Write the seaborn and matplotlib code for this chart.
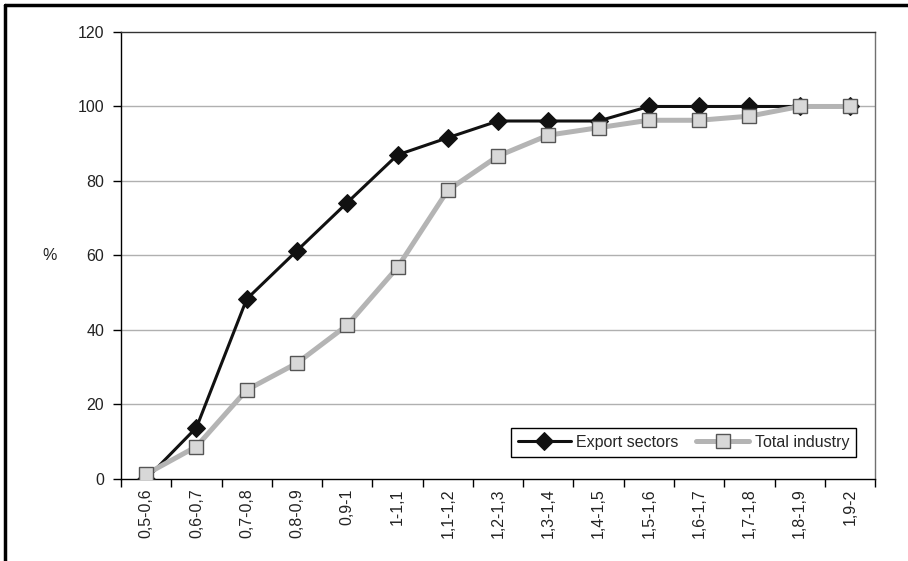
import matplotlib
matplotlib.use("Agg")
import matplotlib.pyplot as plt
import seaborn as sns
import pandas as pd
from matplotlib.lines import Line2D

categories = ["0,5-0,6", "0,6-0,7", "0,7-0,8", "0,8-0,9", "0,9-1", "1-1,1", "1,1-1,2",
              "1,2-1,3", "1,3-1,4", "1,4-1,5", "1,5-1,6", "1,6-1,7", "1,7-1,8", "1,8-1,9", "1,9-2"]
export_sectors = [0, 13.8, 48.3, 61.3, 74.2, 87.0, 91.6, 96.1, 96.1, 96.1, 100, 100, 100, 100, 100]
total_industry = [1.3, 8.7, 23.9, 31.1, 41.3, 56.8, 77.5, 86.7, 92.3, 94.3, 96.3, 96.3, 97.4, 100, 100]
y_ticks = [0, 20, 40, 60, 80, 100, 120]

sns.set_theme(style="white")
plt.rcParams['font.family'] = ['Liberation Sans', 'DejaVu Sans']

fig = plt.figure(figsize=(9.08, 5.61), dpi=100)
ax = fig.add_axes([0.1333, 0.1462, 0.8304, 0.7968])

df_e = pd.DataFrame({"cat": categories, "val": export_sectors})
df_t = pd.DataFrame({"cat": categories, "val": total_industry})

sns.lineplot(data=df_e, x="cat", y="val", ax=ax, color="#111111", lw=2.2,
             marker="D", markersize=9.5, markerfacecolor="#111111", markeredgecolor="#111111",
             label="Export sectors", sort=False, zorder=3)
sns.lineplot(data=df_t, x="cat", y="val", ax=ax, color="#b4b4b4", lw=3.6,
             marker="s", markersize=9.5, markerfacecolor="#d8d8d8", markeredgecolor="#555555",
             markeredgewidth=1.0, label="Total industry", sort=False, zorder=4)

ax.set_xlim(-0.5, len(categories) - 0.5)
ax.set_ylim(0, 120)
ax.set_yticks(y_ticks)
ax.set_yticklabels([str(v) for v in y_ticks], fontsize=11.5, color="#222222")
ax.set_xticks(range(len(categories)))
ax.set_xticklabels(categories, rotation=90, fontsize=11.5, color="#222222")
ax.set_xticks([i - 0.5 for i in range(len(categories) + 1)], minor=True)
ax.tick_params(axis="x", which="major", length=0, pad=7)
ax.tick_params(axis="x", which="minor", length=6, width=1, color="black", direction="out", bottom=True)
ax.tick_params(axis="y", which="major", length=6, width=1, color="black", direction="out", left=True, pad=6)

for v in y_ticks[1:-1]:
    ax.axhline(v, color="#b0b0b0", lw=1, zorder=1)

ax.set_xlabel("")
ax.set_ylabel("%", rotation=0, fontsize=11.5, labelpad=20, va="center", color="#222222")

for side in ["left", "bottom"]:
    ax.spines[side].set_color("black")
    ax.spines[side].set_linewidth(1.0)
ax.spines["top"].set_color("#333333")
ax.spines["top"].set_linewidth(1.0)
ax.spines["right"].set_color("#707070")
ax.spines["right"].set_linewidth(1.0)

leg = ax.legend(loc="lower right", bbox_to_anchor=(0.975, 0.049), ncol=2, fontsize=11.5,
                frameon=True, fancybox=False, edgecolor="black", handlelength=3.3,
                columnspacing=1.1, borderpad=0.45, handletextpad=0.35, borderaxespad=0)
leg.get_frame().set_linewidth(1.0)
leg.get_frame().set_alpha(1)

# outer frame (top and left edges)
fig.add_artist(Line2D([0.0055, 1.0], [0.9915, 0.9915], transform=fig.transFigure, color="black", lw=2.5))
fig.add_artist(Line2D([0.0055, 0.0055], [0.0, 0.9915], transform=fig.transFigure, color="black", lw=2.5))

fig.savefig("out.png", dpi=100, facecolor="white")
